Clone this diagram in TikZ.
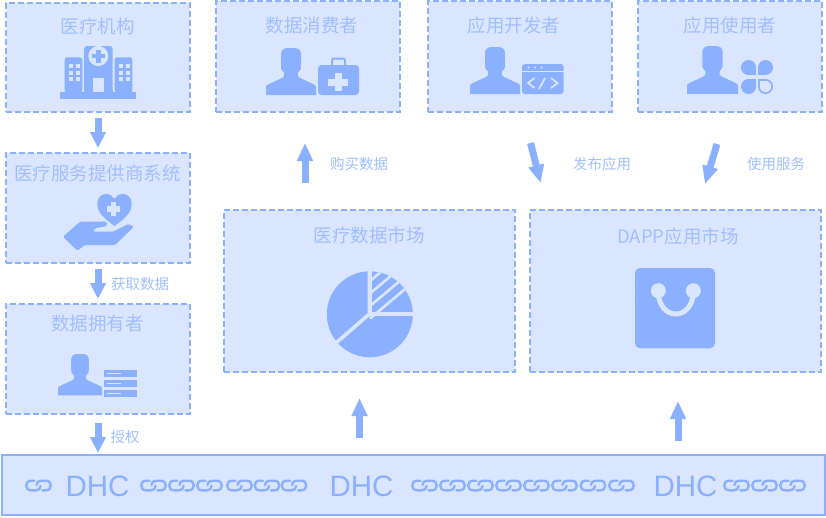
\documentclass[tikz,border=0pt]{standalone}
\usepackage{fontspec}
\setmainfont{Noto Sans CJK SC}
\newfontfamily\latinf{Liberation Sans}
\usetikzlibrary{arrows.meta}
\definecolor{fg}{HTML}{8BB0FF}
\definecolor{bg}{HTML}{DAE6FF}
\definecolor{tx}{HTML}{A0BFFF}
\tikzset{
  dbox/.style={draw=fg,fill=bg,line width=2pt,dash pattern=on 6pt off 3pt,inner sep=0pt,outer sep=0pt,anchor=north west},
  sbox/.style={draw=fg,fill=bg,line width=2pt,inner sep=0pt,outer sep=0pt,anchor=north west},
  title/.style={text=tx,inner sep=0pt,font=\fontsize{18.5}{20}\selectfont},
  lab/.style={text=tx,inner sep=0pt,font=\fontsize{14.5}{16}\selectfont},
  dhc/.style={text=fg,inner sep=0pt,font=\fontsize{29.5}{30}\latinf},
  bigarrow/.style={draw=fg,line width=7pt,-{Triangle[width=15pt,length=16pt]}},
  longarrow/.style={draw=fg,line width=7pt,-{Triangle[width=15pt,length=18pt]}},
  icon/.style={fill=fg,draw=none},
  hole/.style={fill=bg,draw=none},
  chainline/.style={draw=fg,line width=2.4pt,line cap=round,line join=round}
}
\newcommand{\personicon}[3]{%
  \fill[icon,shift={(#1,#2)},scale=#3] (0,47) -- (0,39) .. controls (0,37.5) and (1,37) .. (3,36) -- (16,30)
  .. controls (18,29) and (18.5,28) .. (18,24.5) .. controls (15,22) and (14.5,19) .. (15,16) -- (15,6)
  .. controls (15,2) and (18,0) .. (22,0) -- (28,0) .. controls (32,0) and (35,2) .. (35,6) -- (35,16)
  .. controls (35.5,19) and (35,22) .. (32,24.5) .. controls (31.5,28) and (32,29) .. (34,30) -- (47,36)
  .. controls (49,37) and (50,37.5) .. (50,39) -- (50,47) -- cycle;}
\newcommand{\chainunit}[1]{%
  \begin{scope}[shift={(#1,479.5)}]
  \draw[chainline] (9.5,1.2) -- (6.5,1.2) .. controls (3,1.2) and (1.2,3) .. (1.2,6) .. controls (1.2,9) and (3,10.8) .. (6.5,10.8) -- (11,10.8) .. controls (14,10.8) and (15.5,9) .. (15.5,6.5);
  \draw[chainline] (17.5,10.8) -- (20.5,10.8) .. controls (24,10.8) and (25.8,9) .. (25.8,6) .. controls (25.8,3) and (24,1.2) .. (20.5,1.2) -- (16,1.2) .. controls (13,1.2) and (11.5,3) .. (11.5,5.5);
  \end{scope}}
\begin{document}
\begin{tikzpicture}[x=1pt,y=-1pt]
\useasboundingbox (0,0) rectangle (826,517);
% boxes
\node[dbox,minimum width=184pt,minimum height=109pt] (hosp) at (6,3) {};
\node[dbox,minimum width=184pt,minimum height=110pt] (prov) at (6,153) {};
\node[dbox,minimum width=184pt,minimum height=110pt] (owner) at (6,304) {};
\node[dbox,minimum width=184pt,minimum height=111pt] (cons) at (216,1) {};
\node[dbox,minimum width=184pt,minimum height=111pt] (dev) at (428,1) {};
\node[dbox,minimum width=184pt,minimum height=111pt] (user) at (638,1) {};
\node[dbox,minimum width=291pt,minimum height=162pt] (market) at (224,210) {};
\node[dbox,minimum width=291pt,minimum height=162pt] (dapp) at (530,210) {};
\node[sbox,minimum width=823pt,minimum height=60pt] (chain) at (2,455) {};
% titles
\node[title] (t1) at (97.5,26) {医疗机构};
\node[title] (t2) at (97.5,173.5) {医疗服务提供商系统};
\node[title] (t3) at (97.5,323.5) {数据拥有者};
\node[title] (t4) at (312,25) {数据消费者};
\node[title] (t5) at (514,25) {应用开发者};
\node[title] (t6) at (730,25) {应用使用者};
\node[title] (t7) at (369,235) {医疗数据市场};
\node[title] (t8) at (678,236) {DAPP应用市场};
% labels
\node[lab] (l1) at (359,164) {购买数据};
\node[lab] (l2) at (602,164) {发布应用};
\node[lab] (l3) at (776,164) {使用服务};
\node[lab] (l4) at (140,284) {获取数据};
\node[lab] (l5) at (125,437) {授权};
% DHC
\node[dhc] (d1) at (97.5,486) {DHC};
\node[dhc] (d2) at (361.5,486) {DHC};
\node[dhc] (d3) at (685.5,486) {DHC};
% arrows
\coordinate (a1) at (305,183); \coordinate (a2) at (305,143);
\coordinate (b1) at (530.5,143); \coordinate (b2) at (540.7,183);
\coordinate (c1) at (717,144); \coordinate (c2) at (705,184);
\coordinate (e1) at (359.5,438); \coordinate (e2) at (359.5,398);
\coordinate (f1) at (678,441); \coordinate (f2) at (678,401);
\draw[bigarrow,shorten <=5.5pt,shorten >=5pt] (hosp.south) -- (prov.north);
\draw[bigarrow,shorten <=6pt,shorten >=5pt] (prov.south) -- (owner.north);
\draw[bigarrow,shorten <=9pt,shorten >=2pt] (owner.south) -- (owner.south |- chain.north);
\draw[longarrow] (a1) -- (a2);
\draw[longarrow] (b1) -- (b2);
\draw[longarrow] (c1) -- (c2);
\draw[longarrow] (e1) -- (e2);
\draw[longarrow] (f1) -- (f2);
% hospital icon
\fill[icon] (60,92.3) rectangle (136,98.7);
\fill[icon,rounded corners=3pt] (84,92.5) -- (84,46) -- (112.7,46) -- (112.7,92.5) -- cycle;
\fill[icon,rounded corners=2.5pt] (64.7,92.5) -- (64.7,57.3) -- (82.3,57.3) -- (82.3,92.5) -- cycle;
\fill[icon,rounded corners=2.5pt] (114.7,92.5) -- (114.7,57.3) -- (132.3,57.3) -- (132.3,92.5) -- cycle;
\fill[icon] (64.7,90) rectangle (82.3,93);
\fill[icon] (84,90) rectangle (112.7,93);
\fill[icon] (114.7,90) rectangle (132.3,93);
\foreach \wx in {69,75.7,119,125.7}{\foreach \wy in {64,70.7,77.3}{\fill[hole] (\wx,\wy) rectangle +(4,4);}}
\fill[hole] (98.3,56) circle (10);
\fill[icon] (96,49.5) rectangle (100.6,62.5);
\fill[icon] (92,53.7) rectangle (104.6,58.3);
\fill[hole] (93,77.7) rectangle (104,92.3);
% hand and heart icon
\fill[icon] (114.5,226) .. controls (105,219) and (97.3,213) .. (97.3,204) .. controls (97.3,197) and (102,194) .. (106,194)
 .. controls (110,194) and (113,196) .. (114.5,199) .. controls (116,196) and (119,194) .. (123,194)
 .. controls (127,194) and (131.7,197) .. (131.7,204) .. controls (131.7,213) and (124,219) .. (114.5,226) -- cycle;
\fill[hole] (110.7,202) rectangle (116.3,215.5);
\fill[hole] (106.7,206) rectangle (120.3,211.5);
\fill[icon,rounded corners=1.5pt] (63,236.7) -- (80,221.7) -- (106.7,221.7) -- (107,226) -- (95,228.3) -- (93,231.7) -- (113,231.7) -- (128.3,224) -- (134,226.7) -- (115,245) -- (85,245) -- (77.3,250.7) -- cycle;
% owner icon
\personicon{58}{354}{0.88}
\foreach \ry in {370,380,390}{
  \fill[icon] (104,\ry) rectangle (137,\ry+7.4);
  \fill[hole] (106.7,\ry+2.8) rectangle (120.7,\ry+4.3);
}
% consumer icon
\personicon{266}{48}{1}
\draw[draw=fg,line width=2pt,rounded corners=2pt] (332,66) -- (332,58.5) -- (345,58.5) -- (345,66);
\fill[icon,rounded corners=3.5pt] (318,65) rectangle (359,95);
\fill[hole] (334.5,73) rectangle (341.5,91);
\fill[hole] (328,78.5) rectangle (348,85.5);
% developer icon
\personicon{470}{47}{1}
\fill[icon,rounded corners=3pt] (522,64) rectangle (563.7,94);
\fill[hole] (522,70.6) rectangle (563.7,71.6);
\foreach \dx in {528.5,535,541.5}{\fill[hole] (\dx,67.5) circle (1.2);}
\draw[draw=bg,line width=1.7pt] (534.5,78) -- (528,83) -- (534.5,88);
\draw[draw=bg,line width=1.7pt] (539,89) -- (545,78);
\draw[draw=bg,line width=1.7pt] (551,78) -- (557.5,83) -- (551,88);
% user icon
\personicon{687}{46}{1.02}
\fill[icon] (748.5,67.5) circle (7.5); \fill[icon] (748.5,67.5) rectangle (756,75);
\fill[icon] (765.5,67.5) circle (7.5); \fill[icon] (758,67.5) rectangle (765.5,75);
\fill[icon] (748.5,86.5) circle (7.5); \fill[icon] (748.5,79) rectangle (756,86.5);
\fill[icon] (765.5,86.5) circle (7.5); \fill[icon] (758,79) rectangle (765.5,86.5);
\fill[hole] (765.5,86.5) circle (5.7); \fill[hole] (759.8,80.8) rectangle (765.5,86.5);
% pie icon
\begin{scope}
\clip (369.8,314.3) circle (43);
\fill[icon] (367.5,313) -- (367.5,260) -- (310,260) -- (310,365) -- (307.5,365) -- cycle;
\fill[icon] (370,316) -- (430,316) -- (430,380) -- (308,380) -- (308,370) -- cycle;
\fill[icon] (371.7,265) rectangle (420,312.3);
\foreach \hy in {279.5,292,304.5,317}{\draw[draw=bg,line width=2.6pt] (370,\hy+1.5) -- (420,\hy-40.5);}
\end{scope}
% bag icon
\fill[icon,rounded corners=5pt] (635,268) rectangle (715,348.3);
\draw[draw=bg,line width=5pt] (658.3,293) .. controls (660,321) and (691.5,321) .. (693.3,293);
\fill[hole] (658.3,290.7) circle (7.5);
\fill[hole] (693.3,290.7) circle (7.5);
% chains
\chainunit{25}
\foreach \cx in {140,168,196,226,253.5,280.5}{\chainunit{\cx}}
\foreach \cx in {411,439,467,495,523,551,579.5,608}{\chainunit{\cx}}
\foreach \cx in {723,751,779}{\chainunit{\cx}}
\end{tikzpicture}
\end{document}
